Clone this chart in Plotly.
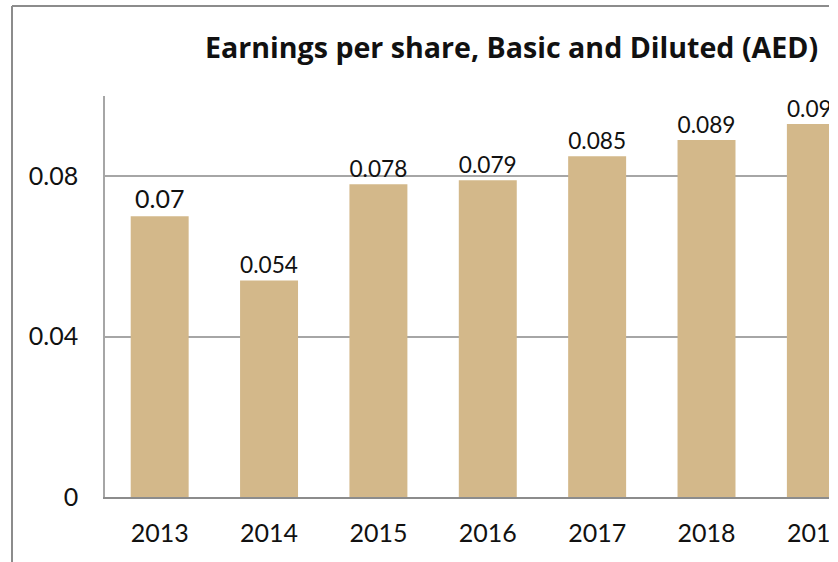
import plotly.graph_objects as go

years = ["2013", "2014", "2015", "2016", "2017", "2018", "2019"]
eps = [0.07, 0.054, 0.078, 0.079, 0.085, 0.089, 0.093]
eps_labels = ["0.07", "0.054", "0.078", "0.079", "0.085", "0.089", "0.093"]
y_ticks = [0, 0.04, 0.08]
y_ticktext = ["0", "0.04", "0.08"]

W, H = 838, 562
L, R, T, B = 105, 829, 96, 497

def px(x):
    return (x - L) / (R - L)

def py(y):
    return (B - y) / (B - T)

fig = go.Figure(go.Bar(
    x=years, y=eps, text=eps_labels, textposition="outside",
    marker=dict(color="#D3B88A", line=dict(width=0)),
    textfont=dict(family="Lato", size=25, color="#111111"),
    cliponaxis=False,
))

fig.update_layout(
    width=W, height=H,
    margin=dict(l=L, r=W - R, t=T, b=H - B, pad=0, autoexpand=False),
    plot_bgcolor="white", paper_bgcolor="white",
    bargap=0.47, showlegend=False,
    font=dict(family="Lato", size=25, color="#111111"),
    xaxis=dict(range=[-0.5, 6.12], showline=True, linecolor="#8c8c8c", linewidth=2,
               ticks="", showgrid=False, tickfont=dict(size=25), ticklabelstandoff=13,
               automargin=False),
    yaxis=dict(range=[0, 0.1], tickvals=y_ticks, ticktext=y_ticktext, showgrid=True,
               gridcolor="#a6a6a6", gridwidth=1.5, showline=True, linecolor="#a6a6a6",
               linewidth=1.5, ticks="", zeroline=False, tickfont=dict(size=25),
               ticklabelstandoff=20, automargin=False),
    shapes=[
        dict(type="rect", xref="paper", yref="paper", x0=1, x1=px(W + 20),
             y0=py(H + 20), y1=py(-20), fillcolor="white", line=dict(width=0), layer="above"),
        dict(type="line", xref="paper", yref="paper", x0=px(12), x1=px(12),
             y0=py(6), y1=py(H + 5), line=dict(color="#8c8c8c", width=2), layer="above"),
        dict(type="line", xref="paper", yref="paper", x0=px(12), x1=1,
             y0=py(6), y1=py(6), line=dict(color="#8c8c8c", width=2), layer="above"),
    ],
    annotations=[dict(text="<b>Earnings per share, Basic and Diluted (AED)</b>",
                      xref="paper", yref="paper", x=px(203), y=py(47),
                      xanchor="left", yanchor="middle", showarrow=False,
                      font=dict(family="Open Sans", size=28.6, color="#111111"))],
)

fig.write_html("out.html", config={"displayModeBar": False, "responsive": False},
               post_script="document.body.style.margin='0';document.body.style.overflow='hidden';")
